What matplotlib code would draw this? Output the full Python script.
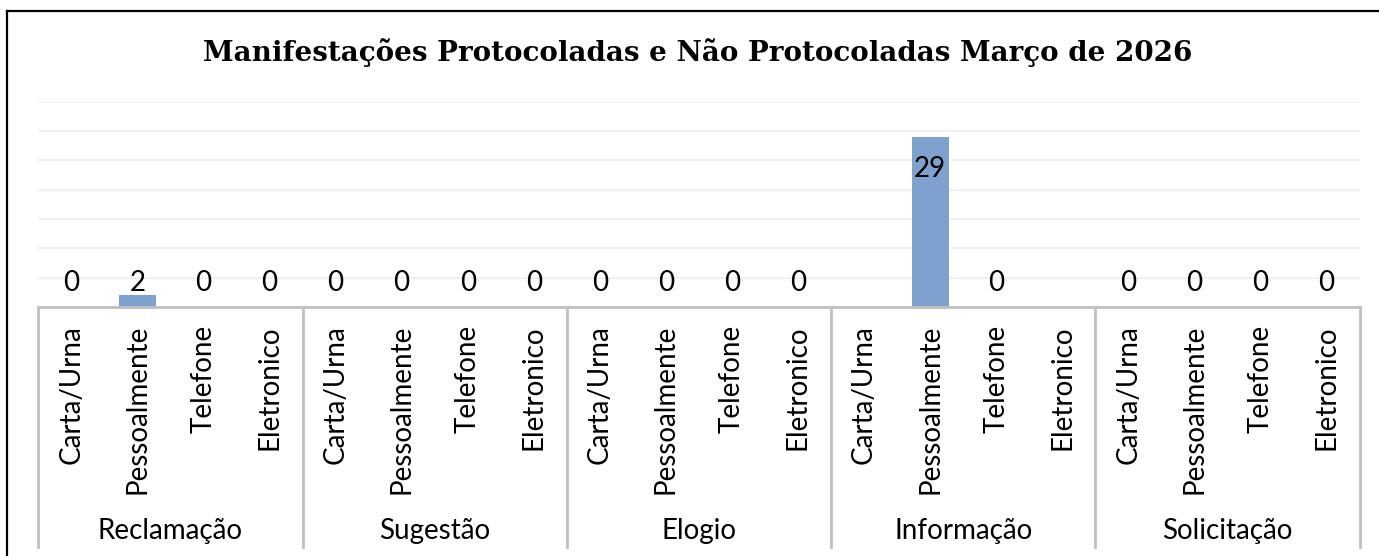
import numpy as np
import matplotlib
matplotlib.use('Agg')
import matplotlib.pyplot as plt
from matplotlib.lines import Line2D
from matplotlib.transforms import blended_transform_factory

# Data
groups = ['Reclamação', 'Sugestão', 'Elogio', 'Informação', 'Solicitação']
channels = ['Carta/Urna', 'Pessoalmente', 'Telefone', 'Eletronico']
reclamacao = [0, 2, 0, 0]
sugestao = [0, 0, 0, 0]
elogio = [0, 0, 0, 0]
informacao = [None, 29, 0, None]
solicitacao = [0, 0, 0, 0]

title = 'Manifestações Protocoladas e Não Protocoladas Março de 2026'

W, H = 1379, 556
fig = plt.figure(figsize=(W / 100, H / 100), dpi=100)

# plot area in pixels
left_px, right_px, base_px, top_px = 38.3, 1359.5, 307, 101.7
ax = fig.add_axes([left_px / W, (H - base_px) / H,
                   (right_px - left_px) / W, (base_px - top_px) / H])

values = reclamacao + sugestao + elogio + informacao + solicitacao
labels = channels * len(groups)
x = np.arange(len(values))
heights = [0 if v is None else v for v in values]

ax.bar(x, heights, width=0.557, color='#7EA1CE', zorder=3)

ax.set_xlim(-0.5, len(values) - 0.5)
ax.set_ylim(0, 35)
ax.set_yticks(np.arange(5, 36, 5))
ax.yaxis.grid(True, color='#EDEDED', linewidth=1.2)
ax.set_axisbelow(True)
ax.tick_params(left=False, labelleft=False, bottom=False, labelbottom=False)
for s in ['left', 'right', 'top']:
    ax.spines[s].set_visible(False)
ax.spines['bottom'].set_color('#BFBFBF')
ax.spines['bottom'].set_linewidth(2.0)
ax.spines['bottom'].set_zorder(4)

sans = 'Lato'
fs = 20
axh = base_px - top_px
trans = blended_transform_factory(ax.transData, ax.transAxes)

# data labels
for xi, v in zip(x, values):
    if v is None:
        continue
    if v > 20:
        ax.annotate(str(v), xy=(xi, v), xytext=(0, -23), textcoords='offset points',
                    ha='center', va='center', fontsize=fs, family=sans, zorder=5)
    else:
        ax.annotate(str(v), xy=(xi, 0), xytext=(0, 17.5), textcoords='offset points',
                    ha='center', va='center', fontsize=fs, family=sans, zorder=5)

# category labels
for xi, lab in zip(x, labels):
    ax.text(xi, -(325 - base_px) / axh, lab, transform=trans, rotation=90,
            ha='center', va='top', fontsize=fs, family=sans)

# group labels and separators
n = len(channels)
for gi, g in enumerate(groups):
    ax.text(gi * n + (n - 1) / 2, -(531 - base_px) / axh, g, transform=trans,
            ha='center', va='center', fontsize=fs, family=sans)
for b in np.arange(-0.5, len(values), n):
    ax.plot([b, b], [0, -(547 - base_px) / axh], transform=trans, color='#C0C0C0',
            linewidth=2.0, clip_on=False, zorder=4)

fig.text(697.5 / W, (H - 61) / H, title, ha='center', va='baseline',
         fontsize=20, fontweight='bold', family='DejaVu Serif')

# outer chart border
fig.add_artist(Line2D([7 / W, 1.0], [(H - 11) / H, (H - 11) / H], color='black', linewidth=1.6))
fig.add_artist(Line2D([7 / W, 7 / W], [0, (H - 11) / H], color='black', linewidth=1.6))

fig.savefig('out.png', dpi=100)
